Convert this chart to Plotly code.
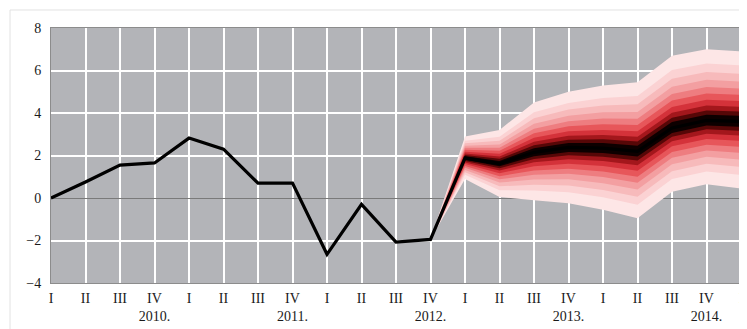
import plotly.graph_objects as go

quarters = ["I", "II", "III", "IV"] * 5 + ["I"]
year_labels = {3: "2010.", 7: "2011.", 11: "2012.", 15: "2013.", 19: "2014."}

# central projection / history line
line_values = [0.0, 0.75, 1.55, 1.65, 2.82, 2.3, 0.7, 0.7, -2.65, -0.3, -2.07, -1.95,
               1.88, 1.62, 2.15, 2.38, 2.35, 2.2, 3.3, 3.65, 3.6]

# fan chart outer bounds (from 2012 Q4 onward)
fan_start = 11
fan_upper = [-1.95, 2.9, 3.2, 4.5, 5.0, 5.3, 5.45, 6.7, 7.0, 6.9]
fan_lower = [-1.95, 0.9, 0.05, -0.1, -0.25, -0.55, -0.95, 0.3, 0.65, 0.45]

# relative width of each nested band and its colour (outer -> inner)
band_share = [1.0, 0.8, 0.68, 0.57, 0.47, 0.38, 0.29, 0.21, 0.14, 0.08]
band_colors = ["#fde6e6", "#fbd2d3", "#f7babb", "#f39fa1", "#ee7d80", "#e7565a",
               "#d4323a", "#a3171c", "#560707", "#0d0000"]

xs = list(range(len(line_values)))
fan_x = xs[fan_start:]
fan_mid = line_values[fan_start:]

fig = go.Figure()

for share, col in zip(band_share, band_colors):
    up = [m + share * (u - m) for m, u in zip(fan_mid, fan_upper)]
    lo = [m - share * (m - l) for m, l in zip(fan_mid, fan_lower)]
    fig.add_trace(go.Scatter(
        x=fan_x + fan_x[::-1], y=up + lo[::-1], fill="toself", fillcolor=col,
        line=dict(width=0, color=col), mode="lines", hoverinfo="skip", showlegend=False))

fig.add_trace(go.Scatter(x=xs, y=line_values, mode="lines",
                         line=dict(color="black", width=3.2), showlegend=False))

ticktext = [q + ("<br>" + year_labels[i] if i in year_labels else "<br> ") for i, q in enumerate(quarters)]

fig.update_layout(
    width=739, height=321,
    margin=dict(l=43, r=6, t=20, b=46),
    paper_bgcolor="white", plot_bgcolor="#b3b4b8",
    font=dict(family="Liberation Serif", size=14, color="#1a1a1a"),
    xaxis=dict(range=[0, 20], tickvals=xs, ticktext=ticktext, tickangle=0,
               showgrid=True, gridcolor="white", gridwidth=2,
               showline=True, linecolor="#8c8c8c", linewidth=1, mirror=True,
               ticks="", zeroline=False, automargin=False, ticklabelstandoff=2),
    yaxis=dict(range=[-4, 8], tickvals=[-4, -2, 0, 2, 4, 6, 8],
               showgrid=True, gridcolor="white", gridwidth=2,
               showline=True, linecolor="#8c8c8c", linewidth=1, mirror=True,
               zeroline=True, zerolinecolor="#7a7a7a", zerolinewidth=1,
               ticks="", ticklabelstandoff=6, automargin=False),
    shapes=[
        dict(type="line", xref="paper", yref="paper", x0=-0.0594, x1=1.01, y0=1.0706, y1=1.0706,
             line=dict(color="#e2e2e2", width=1)),
        dict(type="line", xref="paper", yref="paper", x0=-0.0594, x1=-0.0594, y0=1.0706, y1=-0.2,
             line=dict(color="#e2e2e2", width=1)),
    ],
)

fig.write_html("out.html")
